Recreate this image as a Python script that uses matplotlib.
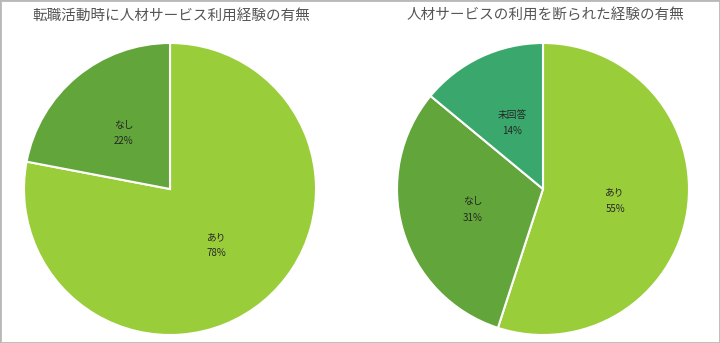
import matplotlib.pyplot as plt
from matplotlib.patches import Rectangle

plt.rcParams['font.family'] = ['Noto Sans CJK JP', 'DejaVu Sans']

title1 = "転職活動時に人材サービス利用経験の有無"
labels1 = ["あり", "なし"]
values1 = [78, 22]
colors1 = ["#9acd3a", "#62a53a"]

title2 = "人材サービスの利用を断られた経験の有無"
labels2 = ["あり", "なし", "未回答"]
values2 = [55, 31, 14]
colors2 = ["#9acd3a", "#62a53a", "#3aa86c"]

fig = plt.figure(figsize=(7.2, 3.43), dpi=100)
fig.patches.append(Rectangle((0, 0), 1, 1, transform=fig.transFigure,
                             fill=False, edgecolor="#b8b8b8", linewidth=2))


def draw(rect, title, labels, values, colors, title_x):
    ax = fig.add_axes(rect)
    wedges, texts = ax.pie(values, colors=colors, startangle=90, counterclock=False,
                           labels=[f"{l}\n{v}%" for l, v in zip(labels, values)],
                           labeldistance=0.5,
                           wedgeprops=dict(edgecolor="white", linewidth=1.5),
                           textprops=dict(fontsize=7, color="#262626",
                                          ha="center", va="center", linespacing=1.8))
    for t in texts:
        t.set_ha("center")
    ax.set_xlim(-1, 1)
    ax.set_ylim(-1, 1)
    fig.text(title_x, 1 - 16 / 343, title, fontsize=10.5, color="#555555",
             ha="center", va="center")


draw([24 / 720, 8 / 343, 292 / 720, 292 / 343], title1, labels1, values1, colors1, 171 / 720)
draw([397 / 720, 8 / 343, 292 / 720, 292 / 343], title2, labels2, values2, colors2, 545 / 720)

fig.savefig("out.png", dpi=100)
